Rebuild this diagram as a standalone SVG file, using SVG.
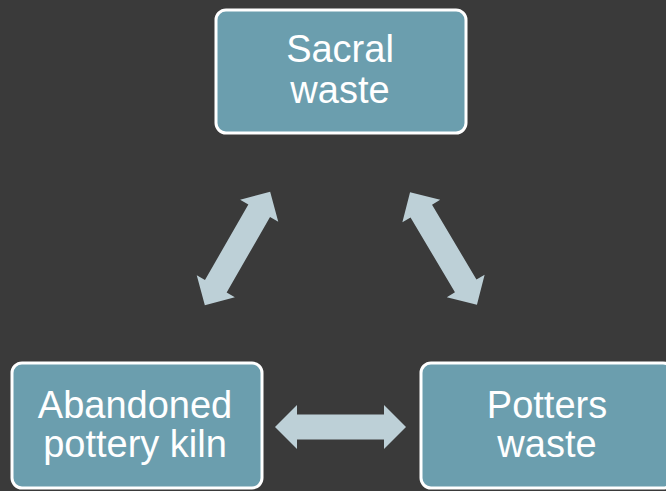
<svg xmlns="http://www.w3.org/2000/svg" width="666" height="491" viewBox="0 0 666 491">
<style>
.box{fill:#6b9eae;stroke:#ffffff;stroke-width:3}
.lbl{font-family:"Liberation Sans",Arial,sans-serif;font-size:38px;fill:#ffffff;text-anchor:middle}
.arr{fill:#bdd0d7}
</style>
<defs>
<path id="dbl" d="M -65.5,0 L -43.5,-22 L -43.5,-12.5 L 43.5,-12.5 L 43.5,-22 L 65.5,0 L 43.5,22 L 43.5,12.5 L -43.5,12.5 L -43.5,22 Z"/>
</defs>
<rect width="666" height="491" fill="#3a3a3a"/>
<g id="connectors">
<use href="#dbl" class="arr" transform="translate(237.5,248.5) rotate(-60.1)"/>
<use href="#dbl" class="arr" transform="translate(443.5,248.5) rotate(59.3)"/>
<use href="#dbl" class="arr" transform="translate(340.5,427)"/>
</g>
<g id="sacral">
<rect class="box" x="216" y="10" width="250" height="123" rx="10"/>
<text class="lbl" x="340" y="62">Sacral</text>
<text class="lbl" x="340" y="103">waste</text>
</g>
<g id="kiln">
<rect class="box" x="12" y="363" width="250" height="125" rx="10"/>
<text class="lbl" x="135" y="418">Abandoned</text>
<text class="lbl" x="135" y="457">pottery kiln</text>
</g>
<g id="potters">
<rect class="box" x="421" y="363" width="252" height="125" rx="10"/>
<text class="lbl" x="547" y="418">Potters</text>
<text class="lbl" x="547" y="457">waste</text>
</g>
</svg>
